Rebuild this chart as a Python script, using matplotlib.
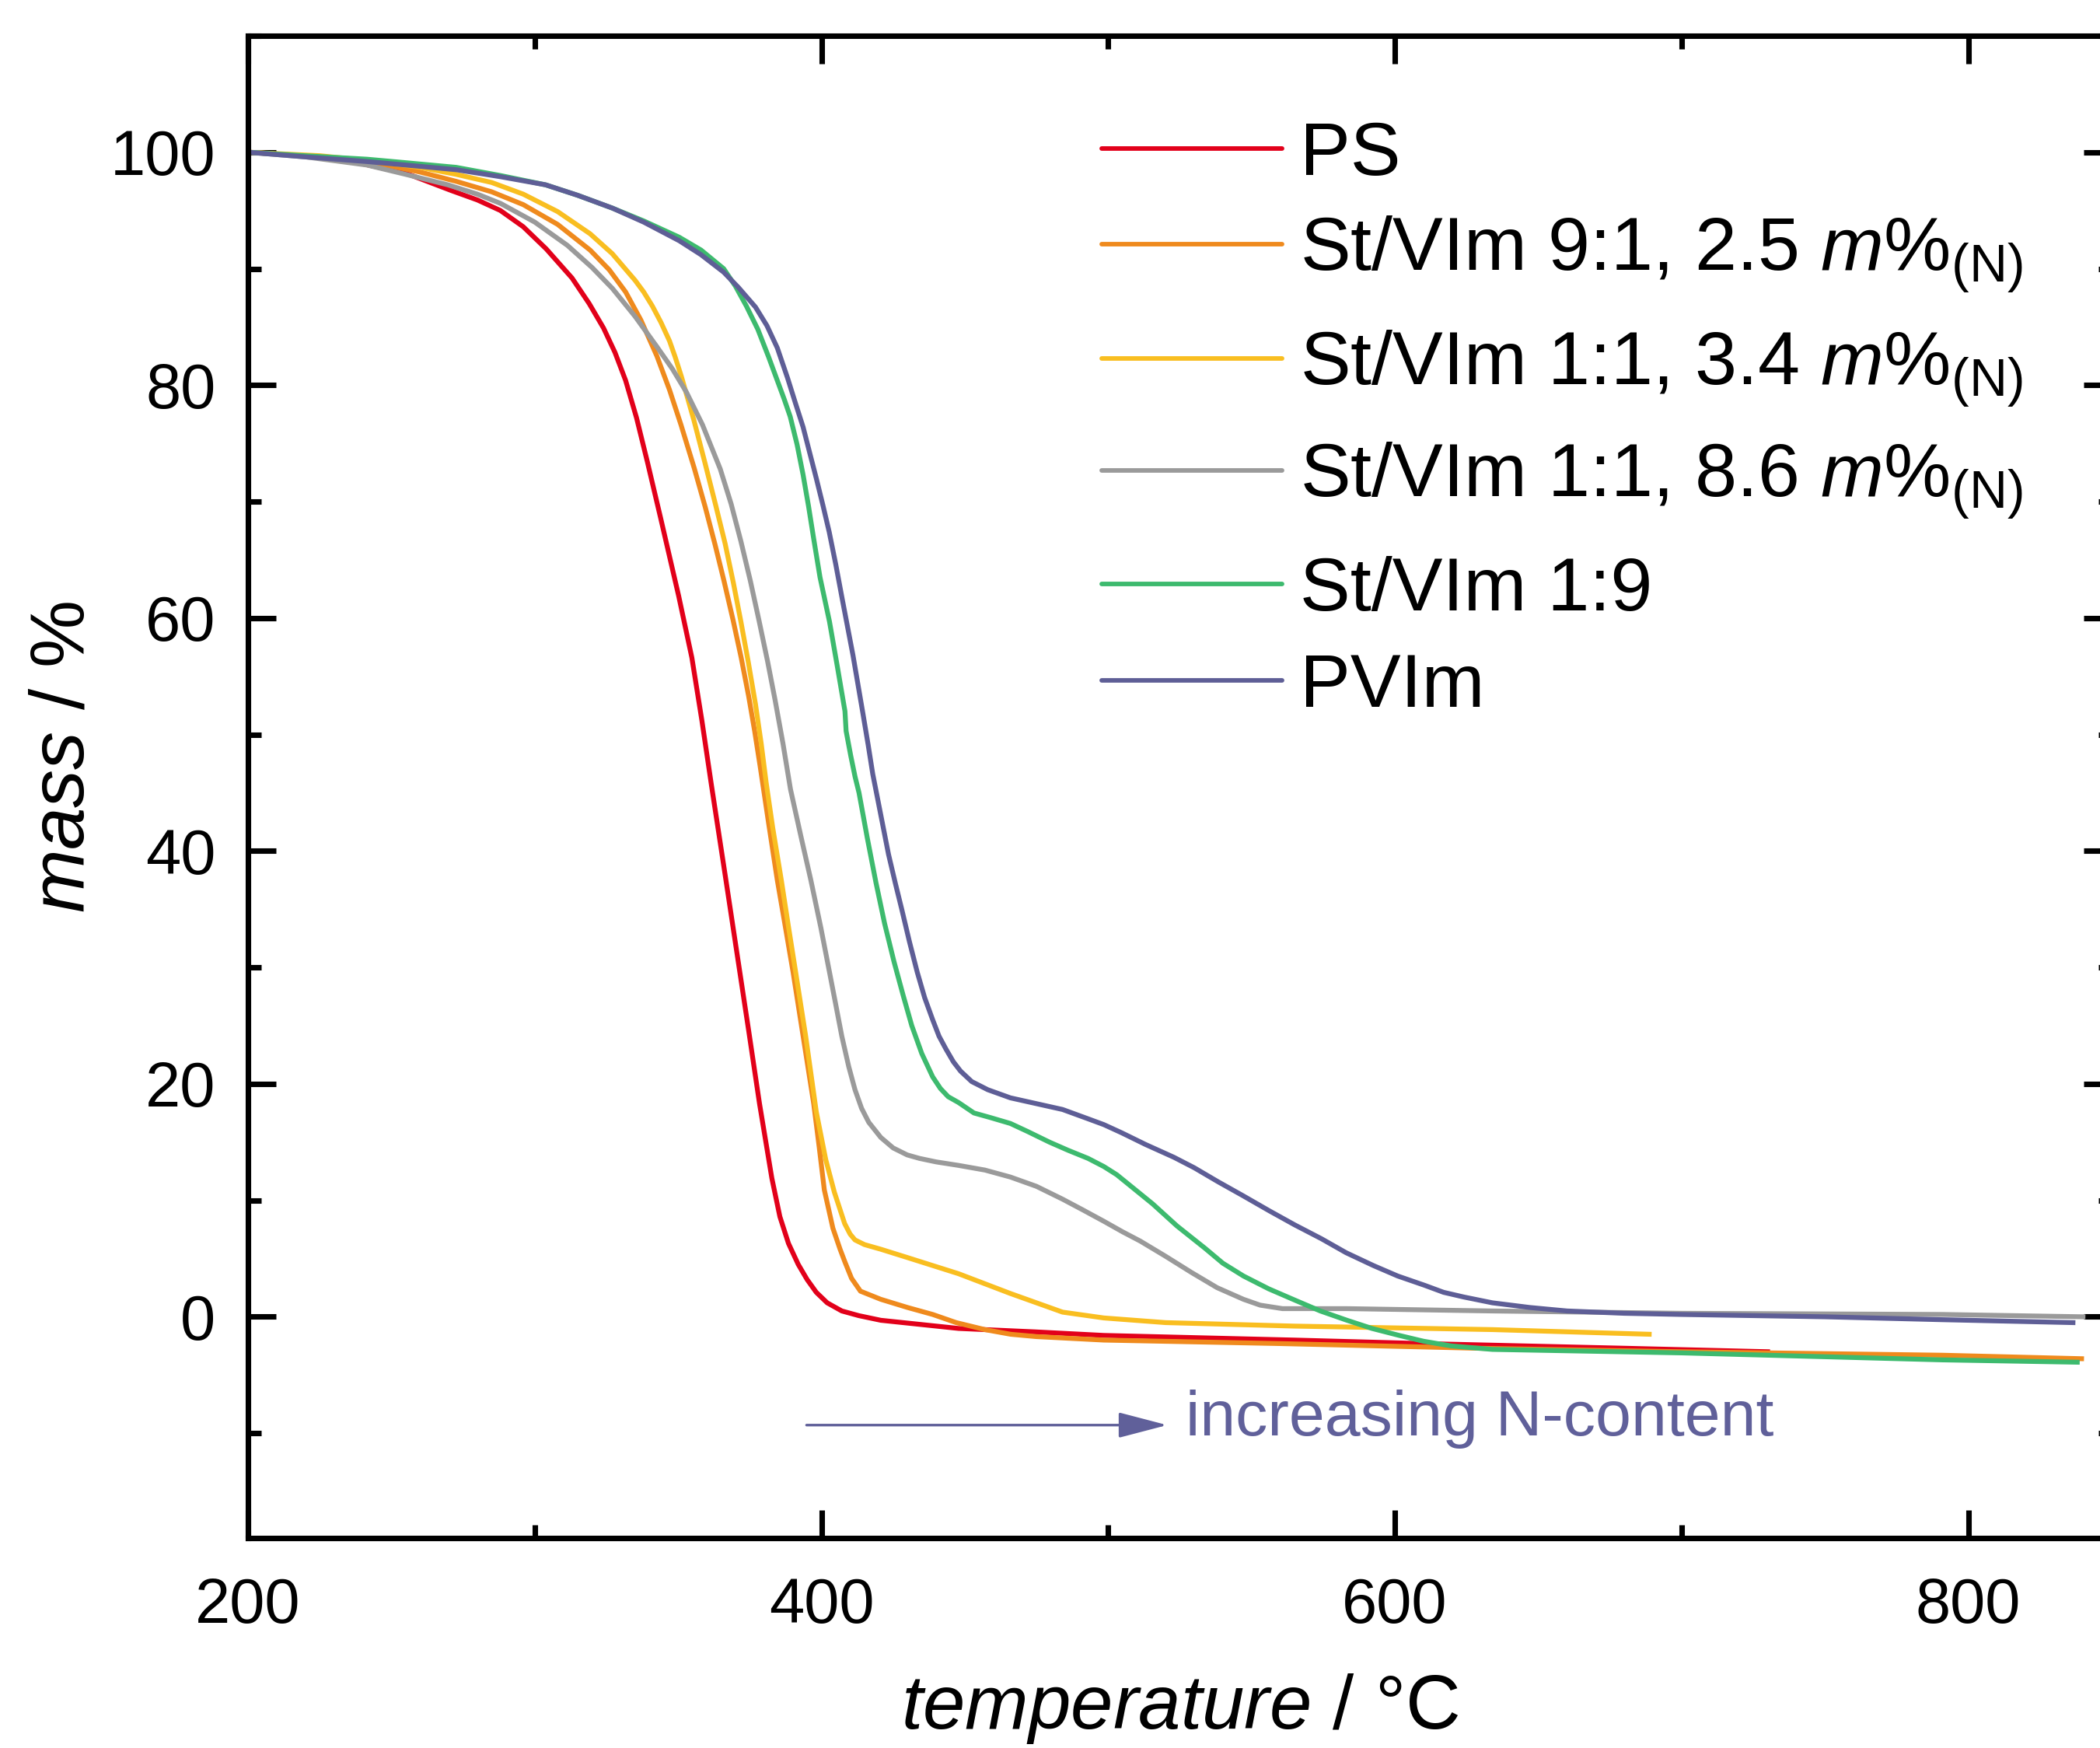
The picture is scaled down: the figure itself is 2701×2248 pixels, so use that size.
import matplotlib
matplotlib.use('Agg')
from matplotlib import pyplot as plt
from matplotlib.ticker import MultipleLocator

plt.rcParams['font.family'] = ['Liberation Sans', 'DejaVu Sans']
plt.rcParams['mathtext.fontset'] = 'custom'
plt.rcParams['mathtext.rm'] = 'Liberation Sans'
plt.rcParams['mathtext.it'] = 'Liberation Sans:italic'

# TGA curves: temperature (°C) and mass (%)
ps_t = [200, 220, 240, 255, 271, 280, 288, 296, 304, 313, 319, 324, 328, 331.7, 335.5,
        339.3, 343.9, 347, 350.2, 354.8, 358.3, 361.6, 366.5, 371.1, 374.6, 378.4,
        382.7, 385.5, 388.5, 391.9, 395, 398.2, 402, 407.1, 413, 420.7, 447.8, 474.9,
        498.5, 565, 610, 680, 730]
ps_m = [100, 99.7, 99.0, 98.2, 96.7, 95.9, 95.0, 93.6, 91.7, 89.2, 87.0, 84.9, 82.8, 80.4, 77.2,
        73.4, 68.6, 65.3, 61.9, 56.6, 51.2, 45.7, 37.8, 30.3, 24.6, 18.3,
        11.9, 8.6, 6.3, 4.5, 3.2, 2.1, 1.2, 0.5, 0.1, -0.3, -1.0, -1.3,
        -1.6, -2.0, -2.3, -2.7, -3.0]

sv91_t = [200, 225, 246, 260, 272.6, 285, 296, 308, 319.3, 326, 331.7, 337, 342.6, 347, 351,
          355.6, 359.5, 362.9, 366, 369.2, 372, 374.6, 376.7, 378.6, 381.5, 384.6, 387.4,
          390.1, 393.6, 397.3, 399.2, 401, 404, 406.5, 408.2, 410.5, 413.6, 420.7, 430,
          438.8, 447, 457, 466, 474.9, 498.5, 560, 628.6, 700, 791, 839.5]
sv91_m = [100, 99.6, 99.0, 98.3, 97.5, 96.6, 95.5, 93.8, 91.6, 89.9, 88.0, 85.6, 82.5, 79.6, 76.6,
          72.9, 69.5, 66.3, 63.2, 59.8, 56.6, 53.3, 50.3, 47.3, 42.5, 37.5, 33.5,
          29.6, 24.1, 18.3, 14.6, 10.9, 7.6, 5.8, 4.7, 3.3, 2.2, 1.5, 0.8,
          0.2, -0.5, -1.1, -1.5, -1.7, -2.0, -2.3, -2.7, -3.0, -3.3, -3.6]

sv11a_t = [200, 225, 245, 260, 272.6, 285, 296, 308, 319.3, 327, 335, 338, 341, 344, 347,
           349, 351.2, 353.3, 355.5, 359.4, 363, 366.4, 369.3, 371.9, 374.5, 377, 379, 380.7,
           383, 386, 388.5, 391, 394.5, 398.2, 401.5, 404.5, 406.5, 408.1, 410, 411.7, 415,
           420.7, 429.8, 447.8, 465.9, 484.1, 498.5, 520, 565, 634, 688.7]
sv11a_m = [100, 99.7, 99.2, 98.7, 98.1, 97.4, 96.4, 94.9, 93.0, 91.3, 89.0, 88.0, 86.8, 85.4, 83.8,
           82.4, 80.7, 78.9, 77.0, 73.3, 69.8, 66.4, 63.0, 59.7, 56.2, 52.6, 49.2, 45.9,
           42.0, 37.5, 33.5, 29.6, 24.1, 17.6, 13.5, 10.7, 9.2, 8.0, 7.1, 6.6, 6.2,
           5.8, 5.1, 3.7, 2.0, 0.4, -0.1, -0.5, -0.8, -1.1, -1.5]

sv11b_t = [200, 220, 241.5, 255, 269.7, 280, 288.1, 300, 311.4, 320, 327.1, 335, 342.6, 348,
           352.9, 358.5, 364.7, 368.5, 371.9, 375.2, 378.3, 381.2, 383.8, 386.6, 389.2, 392.8,
           396.3, 399.8, 402.8, 405, 407.1, 409.5, 411.7, 414, 416.5, 420.7, 425, 429.9,
           434.2, 440, 447.8, 457, 465.9, 475, 484.1, 491, 498.5, 505, 511.2, 520, 529.1,
           538, 547.2, 553, 560.8, 583.3, 634, 700, 791, 840]
sv11b_m = [100, 99.6, 98.9, 98.1, 97.2, 96.4, 95.6, 94.0, 92.0, 90.1, 88.3, 85.9, 83.3, 81.4,
           79.4, 76.6, 72.8, 69.8, 66.6, 63.2, 59.7, 56.3, 53.0, 49.2, 45.3, 41.3,
           37.5, 33.4, 29.6, 26.8, 24.1, 21.5, 19.5, 17.9, 16.7, 15.4, 14.5, 13.9,
           13.6, 13.3, 13.0, 12.6, 12.0, 11.2, 10.1, 9.2, 8.2, 7.3, 6.5, 5.2, 3.8,
           2.5, 1.5, 1.0, 0.7, 0.7, 0.5, 0.3, 0.2, 0.0]

sv19_t = [200, 220, 241.5, 255, 272.6, 288, 303.8, 315, 327.1, 338, 350.4, 358, 365.9, 370,
          373.8, 377.8, 381.6, 384.6, 387, 389.1, 391.5, 393.6, 395.5, 397.3, 399.5, 402.8,
          405.5, 408.2, 408.6, 410.2, 411.7, 413.1, 416, 419, 422, 425.3, 428.5, 431.5, 435,
          438.8, 441.5, 444.2, 447.8, 453.2, 459, 465.9, 472, 479.5, 486, 493, 498.5, 503,
          509, 515.5, 524, 533.7, 540, 547.2, 556, 565.4, 574, 583.3, 592, 601.5, 610,
          619.6, 634, 700, 791, 838]
sv19_m = [100, 99.7, 99.4, 99.1, 98.7, 98.0, 97.2, 96.3, 95.2, 94.1, 92.7, 91.6, 90.0, 88.5,
          86.8, 84.8, 82.4, 80.4, 78.8, 77.3, 74.9, 72.3, 69.6, 66.8, 63.5, 59.7,
          55.9, 52.0, 50.3, 48.2, 46.4, 45.0, 41.1, 37.3, 33.8, 30.5, 27.6, 25.0, 22.6,
          20.6, 19.6, 18.9, 18.4, 17.5, 17.1, 16.6, 15.9, 15.0, 14.3, 13.6, 12.9, 12.2,
          11.0, 9.7, 7.8, 5.9, 4.6, 3.5, 2.4, 1.4, 0.5, -0.3, -1.0, -1.6, -2.1,
          -2.5, -2.8, -3.1, -3.7, -3.9]

pvim_t = [200, 220, 241.5, 255, 272.6, 288, 303.8, 315, 327.1, 338, 350.4, 358, 365.9, 371,
          377, 381, 384.6, 388.2, 391, 393.6, 396, 398.2, 400.5, 402.7, 405, 407.2, 411,
          414.4, 416.3, 417.9, 419.5, 423.4, 425.8, 428, 430.7, 433.4, 436, 438.8, 441,
          443.4, 446, 448.5, 452.4, 458, 465.9, 475, 484.1, 493, 498.5, 504.7, 513, 522.9,
          530, 538.3, 547, 556.2, 565, 574.4, 583, 592.5, 601, 610.4, 617, 624, 634, 647,
          660, 680, 700, 750, 791, 836.5]
pvim_m = [100, 99.6, 99.2, 98.9, 98.5, 97.9, 97.2, 96.3, 95.2, 94.0, 92.4, 91.2, 89.7, 88.4,
          86.7, 85.1, 83.2, 80.6, 78.4, 76.4, 74.1, 72.0, 69.7, 67.4, 64.6, 61.7, 56.8,
          51.9, 49.1, 46.6, 44.6, 39.7, 37.2, 35.0, 32.2, 29.6, 27.4, 25.5, 24.1,
          23.0, 21.9, 21.1, 20.2, 19.5, 18.8, 18.3, 17.8, 17.0, 16.5, 15.8, 14.8, 13.7,
          12.8, 11.6, 10.4, 9.1, 7.9, 6.7, 5.5, 4.4, 3.5, 2.7, 2.1, 1.7, 1.2, 0.8,
          0.5, 0.3, 0.2, 0.0, -0.25, -0.5]

labels = ['PS',
          r'St/VIm 9:1, 2.5 $\mathit{m}\%_{\mathrm{(N)}}$',
          r'St/VIm 1:1, 3.4 $\mathit{m}\%_{\mathrm{(N)}}$',
          r'St/VIm 1:1, 8.6 $\mathit{m}\%_{\mathrm{(N)}}$',
          'St/VIm 1:9',
          'PVIm']
colors = ['#e2001a', '#ef8a1d', '#f9be20', '#9a9a9a', '#3dba6e', '#5e5e96']
series = [(ps_t, ps_m), (sv91_t, sv91_m), (sv11a_t, sv11a_m),
          (sv11b_t, sv11b_m), (sv19_t, sv19_m), (pvim_t, pvim_m)]

# legend rows (axes fraction) - spacing is uneven in the original
legend_rows = [0.9249, 0.8613, 0.7852, 0.7107, 0.6351, 0.5709]

arrow_color = '#60609a'

fig = plt.figure(figsize=(2701 / 300, 2248 / 300), dpi=300)
ax = fig.add_axes([319 / 2701, 270 / 2248, 2397 / 2701, 1932 / 2248])

for (t, m), c in zip(series, colors):
    ax.plot(t, m, color=c, lw=1.5)

# hand made legend
for yr, c, lab in zip(legend_rows, colors, labels):
    ax.plot([0.4581, 0.5549], [yr, yr], transform=ax.transAxes, color=c, lw=1.4,
            solid_capstyle='round')
    ax.text(0.5645, yr - 0.0176, lab, transform=ax.transAxes, fontsize=23.3,
            ha='left', va='baseline')

ax.set_xlim(200, 850)
ax.set_ylim(-19, 110)
ax.xaxis.set_major_locator(MultipleLocator(200))
ax.xaxis.set_minor_locator(MultipleLocator(100))
ax.yaxis.set_major_locator(MultipleLocator(20))
ax.yaxis.set_minor_locator(MultipleLocator(10))
ax.tick_params(which='both', direction='in', top=True, right=True, width=1.7)
ax.tick_params(which='major', length=8.6, labelsize=19.5)
ax.tick_params(which='minor', length=4.1)
ax.tick_params(axis='x', pad=12)
ax.tick_params(axis='y', pad=10)
for s in ax.spines.values():
    s.set_linewidth(1.7)

ax.set_xlabel(r'$\mathit{temperature}$ / °C', fontsize=23.5, va='baseline')
ax.xaxis.set_label_coords(0.5, -0.1268)
ax.set_ylabel(r'$\mathit{mass}$ / %', fontsize=23.5, va='center')
ax.yaxis.set_label_coords(-0.099, 0.52)

ax.annotate('', xy=(520.6, -9.3), xytext=(394.8, -9.3),
            arrowprops=dict(arrowstyle='-|>,head_length=0.65,head_width=0.17',
                            color=arrow_color, lw=0.8, mutation_scale=20,
                            shrinkA=0, shrinkB=0))
ax.text(527, -10.2, 'increasing N-content', color=arrow_color, fontsize=19.8,
        ha='left', va='baseline')

plt.savefig('out.png', dpi=300)
